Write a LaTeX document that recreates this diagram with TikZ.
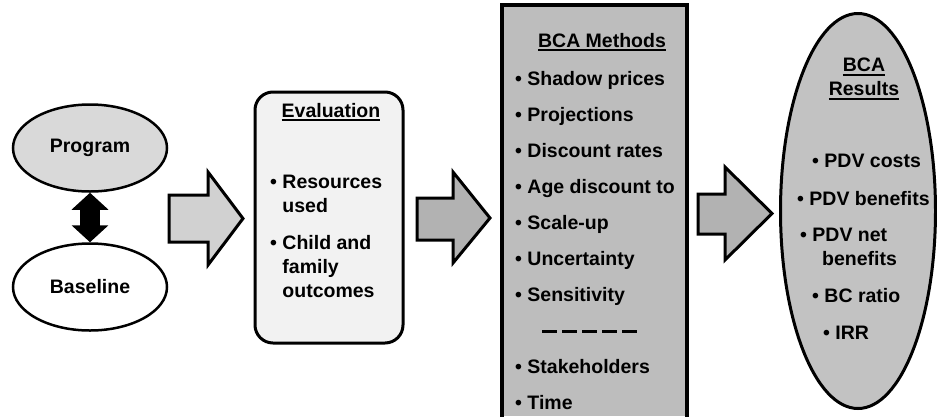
\documentclass[tikz,border=0pt]{standalone}
\usepackage{fontspec}
\setmainfont{Liberation Sans}
\usetikzlibrary{shapes.geometric,arrows.meta}

\definecolor{progfill}{gray}{0.85}
\definecolor{evalfill}{gray}{0.95}
\definecolor{arrowlight}{gray}{0.82}
\definecolor{arrowdark}{gray}{0.70}
\definecolor{methfill}{gray}{0.74}
\definecolor{resfill}{gray}{0.76}

% underlined heading
\newcommand{\hdrline}[1]{\setbox0=\hbox{#1}\rlap{\rule[-4pt]{\wd0}{2pt}}\box0}

\begin{document}
\begin{tikzpicture}[x=1pt,y=-1pt,
    every node/.style={font=\fontsize{19.5}{24}\selectfont\bfseries},
    txt/.style={inner sep=0pt, text height=14pt, text depth=0pt},
    mtxt/.style={inner sep=0pt, align=left},
    oval/.style={ellipse, draw, line width=2.5pt, minimum width=154pt, minimum height=87pt, inner sep=0pt},
    blockarrow/.style={draw, line width=3pt, line join=miter},
    twohead/.style={line width=20pt, {Triangle[length=17pt,width=36pt]}-{Triangle[length=17pt,width=36pt]}}]
  \useasboundingbox (0,0) rectangle (937,416);

  % program vs baseline
  \node[oval, fill=progfill] (prog) at (90,148) {Program};
  \node[oval, fill=white] (base) at (90,287) {Baseline};
  \draw[twohead] (prog) -- (base);

  \filldraw[blockarrow, fill=arrowlight] (169,195) -- (208,195) -- (208,172) -- (243,218.5) -- (208,265) -- (208,242) -- (169,242) -- cycle;

  % evaluation
  \node[draw, line width=3pt, rounded corners=18pt, fill=evalfill, minimum width=148pt, minimum height=251pt] (eval) at (329,217.5) {};
  \node[txt] (evalhd) at (331,110) {\hdrline{Evaluation}};
  \node[mtxt, anchor=north west] (evalres) at (270,175) {• Resources\\\phantom{•} used};
  \node[mtxt, anchor=north west] (evalout) at (270,235) {• Child and\\\phantom{•} family\\\phantom{•} outcomes};

  \filldraw[blockarrow, fill=arrowdark] (417,198) -- (453,198) -- (453,172) -- (490,218) -- (453,263) -- (453,240) -- (417,240) -- cycle;

  % BCA methods
  \fill[methfill] (502,5) rectangle (687,416);
  \draw[line width=3.5pt] (502,418) |- (687,5) -- (687,418);
  \node[txt] (methhd) at (602,40) {\hdrline{BCA Methods}};
  \foreach \lbl [count=\i] in {Shadow prices, Projections, Discount rates, Age discount to, Scale-up, Uncertainty, Sensitivity}
    \node[txt, anchor=west] (meth\i) at (515,{78+36.1*(\i-1)}) {• \lbl};
  \draw[line width=3pt, dash pattern=on 15pt off 5pt] (542,331) -- (637,331);
  \node[txt, anchor=west] (meth8) at (515,366.8) {• Stakeholders};
  \node[txt, anchor=west] (meth9) at (515,402.9) {• Time};

  \filldraw[blockarrow, fill=arrowdark] (698,194) -- (725,194) -- (725,167) -- (772,213.5) -- (725,260) -- (725,234) -- (698,234) -- cycle;

  % BCA results
  \node[ellipse, draw, line width=3pt, fill=resfill, minimum width=155pt, minimum height=395pt] (res) at (858,211) {};
  \node[mtxt, align=center, anchor=north] (reshd) at (864,58) {\hdrline{BCA}\\\hdrline{Results}};
  \node[txt, anchor=west] (res1) at (812,160) {• PDV costs};
  \node[txt, anchor=west] (res2) at (797,198) {• PDV benefits};
  \node[mtxt, anchor=north west] (res3) at (800,228) {• PDV net\\\hspace*{22pt}benefits};
  \node[txt, anchor=west] (res4) at (812,295) {• BC ratio};
  \node[txt, anchor=west] (res5) at (823,332) {• IRR};
\end{tikzpicture}
\end{document}
